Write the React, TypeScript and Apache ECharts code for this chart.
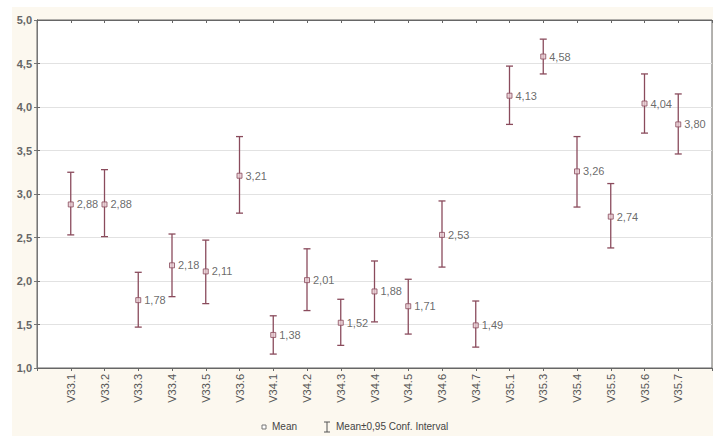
import React, { useEffect, useRef } from "react";
import * as echarts from "echarts";

const categories = [
  "V33.1", "V33.2", "V33.3", "V33.4", "V33.5", "V33.6",
  "V34.1", "V34.2", "V34.3", "V34.4", "V34.5", "V34.6", "V34.7",
  "V35.1", "V35.3", "V35.4", "V35.5", "V35.6", "V35.7",
];
const means = [2.88, 2.88, 1.78, 2.18, 2.11, 3.21, 1.38, 2.01, 1.52, 1.88, 1.71, 2.53, 1.49, 4.13, 4.58, 3.26, 2.74, 4.04, 3.8];
const ciLow = [2.53, 2.51, 1.47, 1.82, 1.74, 2.78, 1.16, 1.66, 1.26, 1.53, 1.39, 2.16, 1.24, 3.8, 4.38, 2.85, 2.38, 3.7, 3.46];
const ciHigh = [3.25, 3.28, 2.1, 2.54, 2.47, 3.66, 1.6, 2.37, 1.79, 2.23, 2.02, 2.92, 1.77, 4.47, 4.78, 3.66, 3.12, 4.38, 4.15];
const yTicks = [1.0, 1.5, 2.0, 2.5, 3.0, 3.5, 4.0, 4.5, 5.0];

const barColor = "#8a4b5c";
const fmt = (v: number, d: number) => v.toFixed(d).replace(".", ",");

export default function App() {
  const ref = useRef<HTMLDivElement>(null);
  useEffect(() => {
    if (!ref.current) return;
    const chart = echarts.init(ref.current, null, { renderer: "svg" });
    const errData = categories.map((_, i) => [i + 1, ciLow[i], ciHigh[i]]);
    const meanData = categories.map((_, i) => [i + 1, means[i]]);
    const xAxisBase = {
      type: "value",
      min: 0,
      max: categories.length + 1,
      interval: 1,
      splitLine: { show: false },
      axisLine: { show: true, lineStyle: { color: "#666", width: 1 } },
    };
    chart.setOption({
      animation: false,
      backgroundColor: "#ffffff",
      graphic: [
        { type: "rect", z: -10, shape: { x: 12, y: 7, width: 701, height: 429 }, style: { fill: "#fcf8ef" } },
        { type: "rect", shape: { x: 262, y: 425, width: 4, height: 4 }, style: { fill: "#fff", stroke: "#777", lineWidth: 1 } },
        { type: "text", x: 272, y: 421, style: { text: "Mean", font: "10px Arial, 'Liberation Sans', sans-serif", fill: "#444" } },
        { type: "line", shape: { x1: 327, y1: 422, x2: 327, y2: 432 }, style: { stroke: "#555", lineWidth: 1 } },
        { type: "line", shape: { x1: 324, y1: 422, x2: 330, y2: 422 }, style: { stroke: "#555", lineWidth: 1 } },
        { type: "line", shape: { x1: 324, y1: 432, x2: 330, y2: 432 }, style: { stroke: "#555", lineWidth: 1 } },
        { type: "text", x: 336, y: 421, style: { text: "Mean±0,95 Conf. Interval", font: "10px Arial, 'Liberation Sans', sans-serif", fill: "#444" } },
      ],
      grid: {
        left: 37, top: 20, right: 1, bottom: 68,
        show: true, backgroundColor: "#ffffff", borderColor: "#666", borderWidth: 1,
      },
      xAxis: [
        {
          ...xAxisBase,
          position: "bottom",
          axisTick: { show: true, inside: false, length: 3, lineStyle: { color: "#666" } },
          axisLabel: {
            rotate: 90,
            margin: 6,
            fontSize: 11,
            fontFamily: "Arial, 'Liberation Sans', sans-serif",
            color: "#555",
            formatter: (v: number) => (v >= 1 && v <= categories.length ? categories[v - 1] : ""),
          },
        },
        {
          ...xAxisBase,
          position: "top",
          axisTick: { show: true, inside: true, length: 3, lineStyle: { color: "#666" } },
          axisLabel: { show: false },
        },
      ],
      yAxis: [
        {
          type: "value",
          min: 1,
          max: 5,
          interval: 0.5,
          position: "left",
          axisLine: { show: true, lineStyle: { color: "#555", width: 1 } },
          axisTick: { show: true, inside: true, length: 3, lineStyle: { color: "#666" } },
          splitLine: { show: true, lineStyle: { color: "#e2e2e2", width: 1 } },
          axisLabel: {
            margin: 5,
            fontSize: 11,
            fontWeight: "bold",
            fontFamily: "Arial, 'Liberation Sans', sans-serif",
            color: "#666",
            formatter: (v: number) => (yTicks.some((t) => Math.abs(t - v) < 1e-9) ? fmt(v, 1) : ""),
          },
        },
        {
          type: "value",
          min: 1,
          max: 5,
          interval: 0.5,
          position: "right",
          axisLine: { show: true, lineStyle: { color: "#777", width: 1 } },
          axisTick: { show: true, inside: true, length: 3, lineStyle: { color: "#777" } },
          splitLine: { show: false },
          axisLabel: { show: false },
        },
      ],
      series: [
        {
          type: "custom",
          xAxisIndex: 0,
          yAxisIndex: 0,
          data: errData,
          renderItem: (params: any, api: any) => {
            const x = api.value(0);
            const lo = api.coord([x, api.value(1)]);
            const hi = api.coord([x, api.value(2)]);
            const hw = 3.5;
            const st = { stroke: barColor, lineWidth: 1.3 };
            return {
              type: "group",
              children: [
                { type: "line", shape: { x1: lo[0], y1: lo[1], x2: hi[0], y2: hi[1] }, style: st },
                { type: "line", shape: { x1: lo[0] - hw, y1: lo[1], x2: lo[0] + hw, y2: lo[1] }, style: st },
                { type: "line", shape: { x1: hi[0] - hw, y1: hi[1], x2: hi[0] + hw, y2: hi[1] }, style: st },
              ],
            };
          },
          z: 2,
        },
        {
          type: "scatter",
          xAxisIndex: 0,
          yAxisIndex: 0,
          data: meanData,
          symbol: "rect",
          symbolSize: 5,
          itemStyle: { color: "#e6cbd1", borderColor: barColor, borderWidth: 1 },
          label: {
            show: true,
            position: "right",
            distance: 3,
            fontSize: 11,
            fontFamily: "Arial, 'Liberation Sans', sans-serif",
            color: "#444",
            formatter: (p: any) => fmt(p.value[1], 2),
          },
          z: 3,
        },
      ],
    });
    return () => chart.dispose();
  }, []);
  return <div ref={ref} style={{ position: "fixed", left: 0, top: 0, width: 713, height: 436 }} />;
}
